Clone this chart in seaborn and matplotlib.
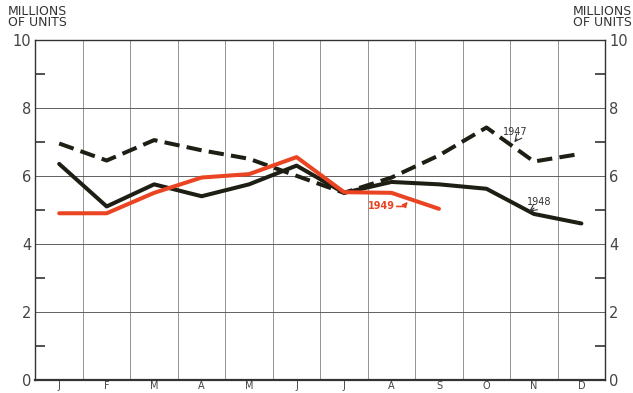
import numpy as np
import pandas as pd
import matplotlib
matplotlib.use("Agg")
import matplotlib.pyplot as plt
import seaborn as sns

# data (millions of units)
months = ["J", "F", "M", "A", "M", "J", "J", "A", "S", "O", "N", "D"]
sales_1947 = [6.95, 6.45, 7.05, 6.75, 6.5, 6.0, 5.5, 5.95, 6.6, 7.42, 6.42, 6.65]
sales_1948 = [6.35, 5.1, 5.75, 5.4, 5.75, 6.3, 5.5, 5.82, 5.75, 5.62, 4.88, 4.6]
sales_1949 = [4.9, 4.9, 5.5, 5.95, 6.05, 6.55, 5.52, 5.5, 5.03]

rows = []
for year, vals in [("1947", sales_1947), ("1948", sales_1948), ("1949", sales_1949)]:
    for i, v in enumerate(vals):
        rows.append({"month": i, "units": v, "year": year})
df = pd.DataFrame(rows)

sns.set_theme(style="white")
plt.rcParams["font.family"] = ["DejaVu Sans"]

fig = plt.figure(figsize=(6.33, 3.93), dpi=100)
ax = fig.add_axes([0.056, 0.033, 0.900, 0.866])

dark = "#1e1e14"
red = "#ea4423"
sns.lineplot(data=df, x="month", y="units", hue="year", style="year",
             palette={"1947": dark, "1948": dark, "1949": red},
             dashes={"1947": (3.8, 1.8), "1948": "", "1949": ""},
             linewidth=2.9, legend=False, ax=ax, zorder=3)

ax.set_xlim(-0.5, 11.5)
ax.set_ylim(0, 10)
ax.set_xlabel("")
ax.set_ylabel("")

# months as bands, grid lines on band borders
ax.set_xticks(range(12))
ax.set_xticklabels(months, fontsize=7, color="#444444")
ax.set_xticks(np.arange(0.5, 11.5, 1), minor=True)
ax.tick_params(axis="x", which="both", length=0, pad=1)

ax.set_yticks([0, 2, 4, 6, 8, 10])
ax.set_yticks([1, 3, 5, 7, 9], minor=True)
ax.tick_params(axis="y", which="major", length=0, labelsize=10.5,
               labelcolor="#444444", labelleft=True, labelright=True, pad=3)
ax.tick_params(axis="y", which="minor", direction="in", length=7, width=1.2,
               color="#333333", left=True, right=True)

ax.grid(axis="y", which="major", color="#555555", linewidth=0.65)
ax.grid(axis="x", which="minor", color="#777777", linewidth=0.55)
for s in ax.spines.values():
    s.set_color("#333333")
    s.set_linewidth(1.0)
ax.spines["bottom"].set_linewidth(1.6)

# axis titles
fig.text(0.012, 0.925, "MILLIONS\nOF UNITS", fontsize=9, color="#333333",
         linespacing=0.85, ha="left", va="bottom")
fig.text(0.999, 0.925, "MILLIONS\nOF UNITS", fontsize=9, color="#333333",
         linespacing=0.85, ha="right", va="bottom")

# series labels
ax.text(9.35, 7.2, "1947", fontsize=7, color="#333333")
ax.annotate("", xy=(9.55, 6.92), xytext=(9.68, 7.15),
            arrowprops=dict(arrowstyle="->", color="#333333", lw=0.8))
ax.text(9.85, 5.15, "1948", fontsize=7, color="#333333")
ax.annotate("", xy=(9.85, 4.9), xytext=(10.05, 5.1),
            arrowprops=dict(arrowstyle="->", color="#333333", lw=0.8))
ax.text(6.5, 5.1, "1949", fontsize=7, color=red, fontweight="bold", va="center")
ax.annotate("", xy=(7.38, 5.3), xytext=(7.05, 5.1),
            arrowprops=dict(arrowstyle="-|>", color=red, lw=1.2, mutation_scale=7,
                            connectionstyle="angle,angleA=0,angleB=50"))

fig.savefig("out.png", dpi=100)
